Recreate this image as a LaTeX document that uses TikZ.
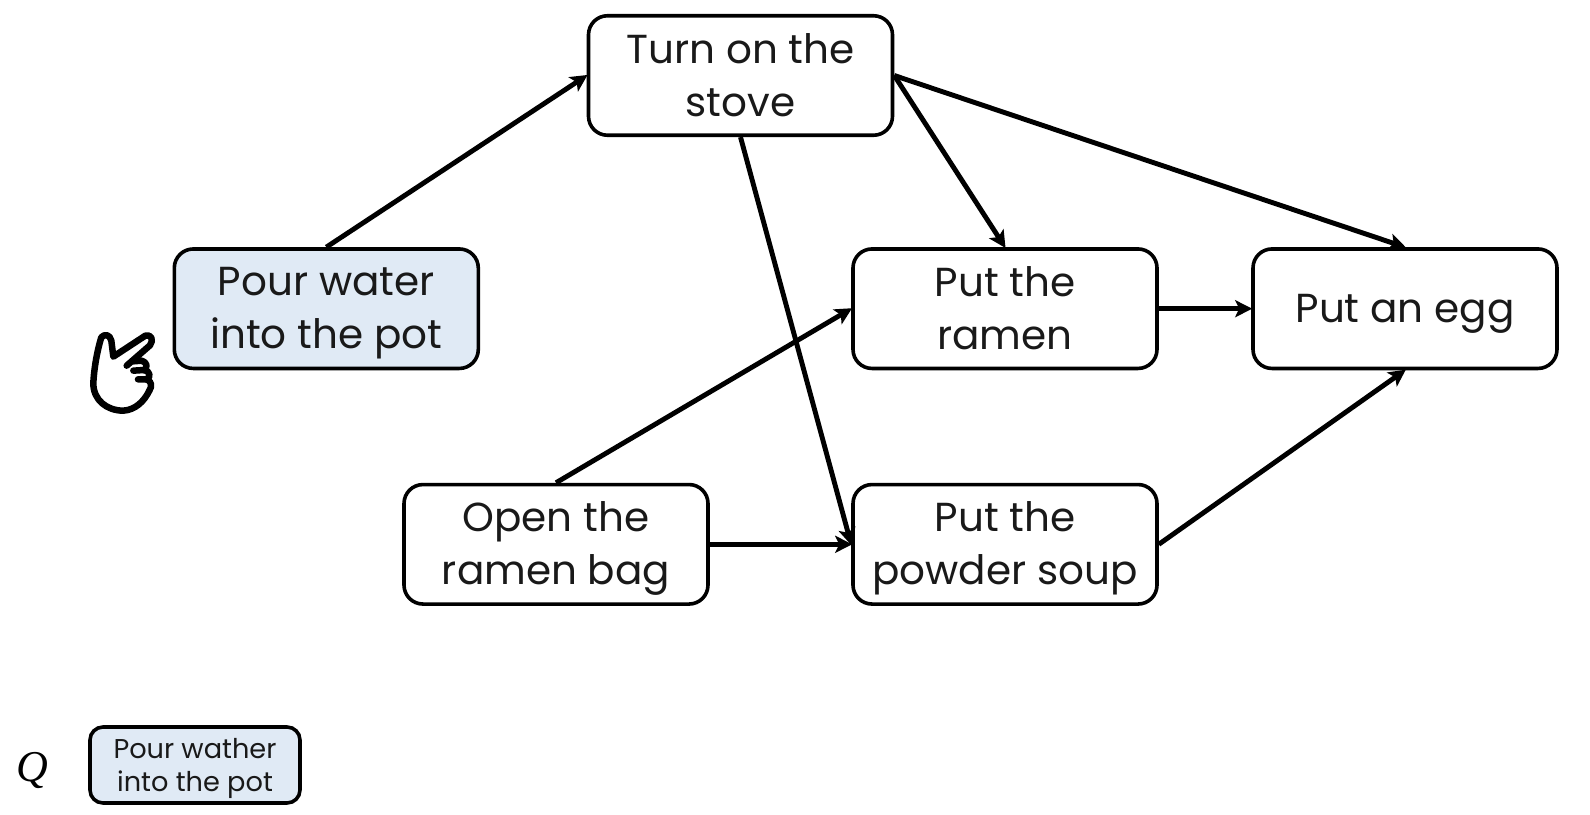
\documentclass[tikz,border=0pt]{standalone}
\usepackage{fontspec}
\setmainfont{Poppins}
\newfontfamily\qfont{Liberation Serif}
\usetikzlibrary{arrows.meta}
\definecolor{boxblue}{HTML}{E0EAF5}
\newcommand{\bigst}{\rule{0pt}{38pt}}
\newcommand{\bigen}{\rule[-9pt]{0pt}{9pt}}
\newcommand{\smst}{\rule{0pt}{27pt}}
\newcommand{\smen}{\rule[-6pt]{0pt}{6pt}}
\tikzset{
  stepbox/.style={draw=black,line width=3.6pt,rounded corners=19pt,minimum width=304pt,minimum height=119.5pt,inner sep=0pt,align=center,font=\fontsize{40.5}{53}\selectfont,text=black!90},
  smallbox/.style={draw=black,line width=3.6pt,rounded corners=13pt,fill=boxblue,minimum width=210pt,minimum height=76pt,inner sep=0pt,align=center,font=\fontsize{27.2}{33}\selectfont,text=black!90},
  link/.style={line width=4.9pt,-{Stealth[length=17pt,width=17pt,inset=4pt]},shorten >=-1pt}
}
\begin{document}
\begin{tikzpicture}[x=1pt,y=-1pt]
\useasboundingbox (0,0) rectangle (1590,814);
\node[stepbox,fill=boxblue] (pour) at (326.3,308.7) {\bigst Pour water\\into the pot\bigen};
\node[stepbox] (stove) at (740.5,75.5) {\bigst Turn on the\\stove\bigen};
\node[stepbox] (ramen) at (1005,308.7) {\bigst Put the\\ramen\bigen};
\node[stepbox] (egg) at (1405,308.7) {\bigst Put an egg\bigen};
\node[stepbox] (bag) at (556,544.3) {\bigst Open the\\ramen bag\bigen};
\node[stepbox] (soup) at (1005,544.3) {\bigst Put the\\powder soup\bigen};
\node[smallbox] (q) at (195,765) {\smst Pour wather\\into the pot\smen};
\node[inner sep=0pt,font=\qfont\itshape\fontsize{44}{44}\selectfont] (qlabel) at (32.5,770) {Q};
\draw[link] (pour.north) -- (stove.west);
\draw[link] (stove.east) -- (ramen.north);
\draw[link] (stove.east) -- (egg.north);
\draw[link] (stove.south) -- (soup.west);
\draw[link] (bag.north) -- (ramen.west);
\draw[link] (bag.east) -- (soup.west);
\draw[link] (ramen.east) -- (egg.west);
\draw[link] (soup.east) -- (egg.south);
\begin{scope}[shift={(70,300)},x=0.3333pt,y=-0.3333pt,line width=6.5pt,line join=round,line cap=round]
\draw (170,197) -- (240,136) .. controls (252,120) and (244,102) .. (226,107) -- (130,170) -- (124,122) .. controls (120,104) and (104,100) .. (94,112) .. controls (82,150) and (72,205) .. (70,250) .. controls (70,300) and (110,332) .. (160,332) .. controls (195,330) and (222,305) .. (238,272);
\draw (190,184) -- (215,182) .. controls (232,186) and (234,204) .. (222,210) -- (190,212);
\draw (222,210) .. controls (240,212) and (244,232) .. (230,238) -- (204,238);
\draw (230,238) .. controls (246,244) and (246,260) .. (238,272);
\end{scope}
\end{tikzpicture}
\end{document}
